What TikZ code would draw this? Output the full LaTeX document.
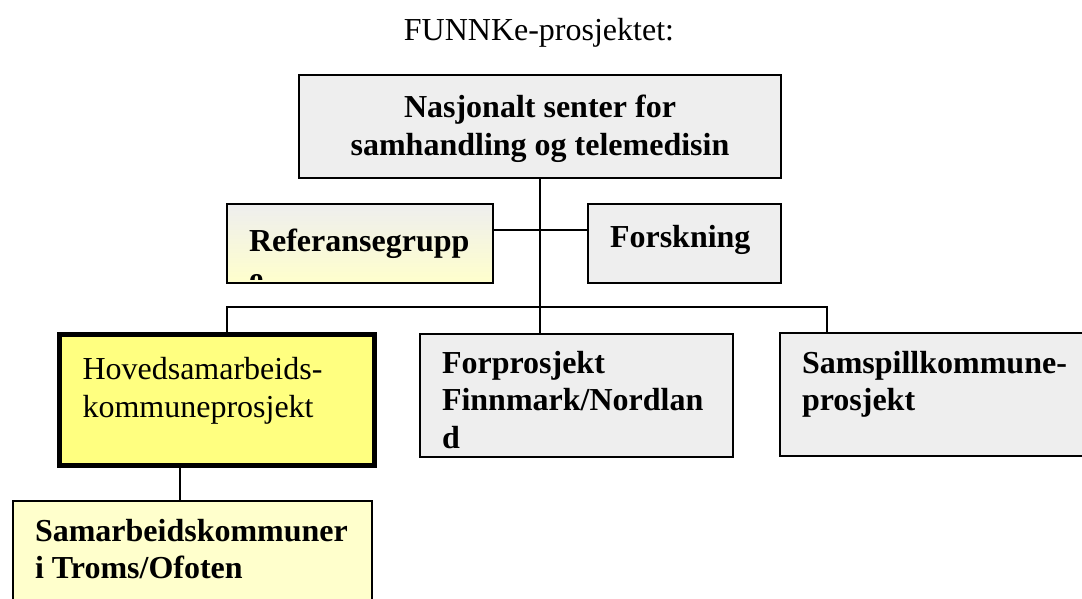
\documentclass[tikz,border=0pt]{standalone}
\usepackage{fontspec}
\setmainfont{Liberation Serif}
\usetikzlibrary{calc}

\definecolor{boksgraa}{HTML}{EEEEEE}
\definecolor{boksgul}{HTML}{FFFF80}
\definecolor{lysgul}{HTML}{FFFFCC}

\tikzset{
	tekstned/.store in=\tekstned, tekstned=18pt,
	klipp/.store in=\tekstklipp, klipp=0pt,
	linje/.style={line width=2pt, color=black},
	innertekst/.style={inner sep=0pt, minimum width=0pt, minimum height=0pt,
		font=\bfseries\fontsize{32}{37.5}\selectfont,
		execute at begin node={\vrule width 0pt height 23pt}},
	boks/.style={draw=black, line width=2pt, rectangle, anchor=north west, inner sep=0pt,
		path picture={
			\clip ([yshift=\tekstklipp]path picture bounding box.south west) rectangle (path picture bounding box.north east);
			\node[innertekst, anchor=north west, align=left]
			at ([shift={(21pt,-\tekstned)}]path picture bounding box.north west) {#1};}},
	toppboks/.style={draw=black, line width=2pt, rectangle, anchor=north west, inner sep=0pt,
		path picture={\node[innertekst, anchor=north, align=center]
			at ([shift={(0pt,-\tekstned)}]path picture bounding box.north) {#1};}},
	tittel/.style={font=\fontsize{32}{37}\selectfont, inner sep=0pt}
}

\begin{document}
\begin{tikzpicture}[x=1pt, y=-1pt]
		%%%%% START %%%%%
		\useasboundingbox (0,0) rectangle (1082,599);
		
		\node[tittel] (tittel) at (539,33) {FUNNKe-prosjektet:};
		
		\node[toppboks={Nasjonalt senter for\\samhandling og telemedisin}, fill=boksgraa, tekstned=19pt,
			minimum width=482pt, minimum height=103pt] (nst) at (298,74) {};
		
		\node[boks={Referansegrupp\\e}, top color=boksgraa, bottom color=lysgul, tekstned=24pt, klipp=4pt,
			minimum width=266pt, minimum height=79pt] (ref) at (226,203) {};
		\node[boks={Forskning}, fill=boksgraa, tekstned=19pt,
			minimum width=193pt, minimum height=79pt] (forsk) at (587,203) {};
		
		\node[boks={\mdseries Hovedsamarbeids-\\\mdseries kommuneprosjekt}, fill=boksgul, line width=4.5pt, tekstned=21pt,
			minimum width=315pt, minimum height=131pt] (hoved) at (57,332) {};
		\node[boks={Forprosjekt\\Finnmark/Nordlan\\d}, fill=boksgraa, tekstned=16pt, klipp=8pt,
			minimum width=313pt, minimum height=123pt] (forpro) at (419,333) {};
		\node[boks={Samspillkommune-\\prosjekt}, fill=boksgraa, tekstned=17pt,
			minimum width=330pt, minimum height=123pt] (samspill) at (779,332) {};
		
		\node[boks={Samarbeidskommuner\\i Troms/Ofoten}, fill=lysgul, tekstned=17pt,
			minimum width=359pt, minimum height=140pt] (samarb) at (12,500) {};
		
		% linjer
		\coordinate (tverr) at (539,230);
		\coordinate (busV) at (227,307);
		\coordinate (busH) at (827,307);
		\coordinate (ned) at (180,480);
		
		\draw[linje] (nst.south) -- (nst.south |- forpro.north);
		\draw[linje] (ref.east |- tverr) -- (forsk.west |- tverr);
		\draw[linje] (busV |- hoved.north) -- (busV) -- (busH) -- (busH |- samspill.north);
		\draw[linje] (ned |- hoved.south) -- (ned |- samarb.north);
		
		%%%%% END %%%%%
\end{tikzpicture}
\end{document}
